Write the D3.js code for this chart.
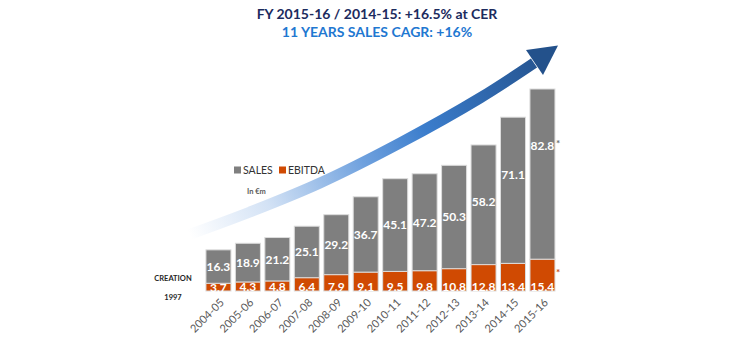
<!DOCTYPE html>
<html>
<head>
<meta charset="utf-8">
<script src="https://cdn.jsdelivr.net/npm/d3@7"></script>
<style>
  body { margin: 0; background: #fff; }
  svg text { font-family: Lato, "Open Sans", sans-serif; }
</style>
</head>
<body>
<div id="chart"></div>
<script>
// Sales and EBITDA in €m by fiscal year
const years = ["2004-05", "2005-06", "2006-07", "2007-08", "2008-09", "2009-10",
               "2010-11", "2011-12", "2012-13", "2013-14", "2014-15", "2015-16"];
const sales = [16.3, 18.9, 21.2, 25.1, 29.2, 36.7, 45.1, 47.2, 50.3, 58.2, 71.1, 82.8];
const ebitda = [3.7, 4.3, 4.8, 6.4, 7.9, 9.1, 9.5, 9.8, 10.8, 12.8, 13.4, 15.4];
const starred = ["2015-16"];
const titleLines = ["FY 2015-16 / 2014-15: +16.5% at CER", "11 YEARS SALES CAGR: +16%"];
const legendItems = ["SALES", "EBITDA"];

const width = 730, height = 350;
const colors = { SALES: "#7f7f7f", EBITDA: "#d04a02" };

const svg = d3.select("#chart").append("svg")
    .attr("width", width)
    .attr("height", height);

const x = d3.scaleBand()
    .domain(years)
    .range([201.5, 559.4])
    .padding(0.151);

const y = d3.scaleLinear()
    .domain([0, d3.max(years, (d, i) => sales[i] + ebitda[i])])
    .range([291, 89]);

// growth arrow (decoration)
const defs = svg.append("defs");
const grad = defs.append("linearGradient")
    .attr("id", "arrowGrad")
    .attr("gradientUnits", "userSpaceOnUse")
    .attr("x1", 190).attr("y1", 235)
    .attr("x2", 560).attr("y2", 45);
[[0, "#ffffff"], [0.2, "#d3e2f5"], [0.45, "#6fa1de"], [0.62, "#3b7dcc"], [1, "#214d86"]]
    .forEach(s => grad.append("stop").attr("offset", s[0]).attr("stop-color", s[1]));

const arrowPts = [[188, 235], [250, 212], [320, 183], [400, 143], [480, 98], [534, 63]];
svg.append("path")
    .attr("d", d3.line().curve(d3.curveCatmullRom)(arrowPts))
    .attr("fill", "none")
    .attr("stroke", "url(#arrowGrad)")
    .attr("stroke-width", 11);
svg.append("path")
    .attr("d", "M526,50 L558,45.5 L543,75 Z")
    .attr("fill", "#23518b");

// titles
svg.selectAll(".title")
    .data(titleLines)
    .enter().append("text")
    .attr("x", 377)
    .attr("y", (d, i) => 14 + i * 18)
    .attr("dy", "0.35em")
    .attr("text-anchor", "middle")
    .attr("font-size", 14)
    .attr("font-weight", "bold")
    .attr("fill", (d, i) => i === 0 ? "#1c2b5e" : "#1f78d1")
    .text(d => d);

// bars
const g = svg.append("g");
const bars = g.selectAll(".bar")
    .data(years.map((yr, i) => ({ yr, s: sales[i], e: ebitda[i] })))
    .enter().append("g");

bars.append("rect")
    .attr("x", d => x(d.yr))
    .attr("y", d => y(d.s + d.e))
    .attr("width", x.bandwidth())
    .attr("height", d => y(d.e) - y(d.s + d.e))
    .attr("fill", colors.SALES)
    .attr("stroke", "#dcdcdc")
    .attr("stroke-width", 1);

bars.append("rect")
    .attr("x", d => x(d.yr))
    .attr("y", d => y(d.e))
    .attr("width", x.bandwidth())
    .attr("height", d => y(0) - y(d.e))
    .attr("fill", colors.EBITDA)
    .attr("stroke", "#dcdcdc")
    .attr("stroke-width", 1);

// value labels
const labelY = d => {
    const top = y(d.s + d.e), mid = (top + y(d.e)) / 2;
    return Math.min(mid, top + 57);
};
bars.append("text")
    .attr("x", d => x(d.yr) + x.bandwidth() / 2)
    .attr("y", labelY)
    .attr("dy", "0.36em")
    .attr("text-anchor", "middle")
    .attr("font-size", 12)
    .attr("font-weight", "bold")
    .attr("fill", "#fff")
    .text(d => d.s.toFixed(1));

bars.append("text")
    .attr("x", d => x(d.yr) + x.bandwidth() / 2)
    .attr("y", d => Math.max((y(d.e) + y(0)) / 2, y(0) - 4))
    .attr("dy", "0.36em")
    .attr("text-anchor", "middle")
    .attr("font-size", 12)
    .attr("font-weight", "bold")
    .attr("fill", "#fff")
    .text(d => d.e.toFixed(1));

// footnote stars
const starBars = bars.filter(d => starred.includes(d.yr));
starBars.append("text")
    .attr("x", d => x(d.yr) + x.bandwidth() + 1)
    .attr("y", d => labelY(d) + 1)
    .attr("font-size", 10)
    .attr("font-weight", "bold")
    .attr("fill", "#6f6f6f")
    .text("*");
starBars.append("text")
    .attr("x", d => x(d.yr) + x.bandwidth() + 1)
    .attr("y", d => (y(d.e) + y(0)) / 2 + 1)
    .attr("font-size", 10)
    .attr("font-weight", "bold")
    .attr("fill", "#c8501a")
    .text("*");

// x axis labels
const xAxis = svg.append("g")
    .attr("transform", `translate(0,${y(0)})`)
    .call(d3.axisBottom(x).tickSize(0).tickPadding(0));
xAxis.select(".domain").remove();
xAxis.selectAll("text")
    .attr("font-family", "Lato, sans-serif")
    .attr("font-size", 11)
    .attr("fill", "#595959")
    .attr("text-anchor", "end")
    .attr("dy", "0.3em")
    .attr("transform", "translate(4,10) rotate(-45)");

// creation note
svg.append("text")
    .attr("x", 173).attr("y", 278)
    .attr("dy", "0.35em")
    .attr("text-anchor", "middle")
    .attr("font-size", 7.5)
    .attr("font-weight", "bold")
    .attr("fill", "#262626")
    .text("CREATION");
svg.append("text")
    .attr("x", 173).attr("y", 297)
    .attr("dy", "0.35em")
    .attr("text-anchor", "middle")
    .attr("font-size", 7.5)
    .attr("font-weight", "bold")
    .attr("fill", "#262626")
    .text("1997");

// legend
const legend = svg.append("g").attr("transform", "translate(234,170)");
const legX = [0, 45];
legendItems.forEach((name, i) => {
    legend.append("rect")
        .attr("x", legX[i]).attr("y", -3.5)
        .attr("width", 7).attr("height", 7)
        .attr("fill", colors[name]);
    legend.append("text")
        .attr("x", legX[i] + 9).attr("y", 0)
        .attr("dy", "0.36em")
        .attr("font-size", 10.5)
        .attr("fill", "#333")
        .text(name);
});
svg.append("text")
    .attr("x", 247).attr("y", 191)
    .attr("dy", "0.35em")
    .attr("font-size", 7.5)
    .attr("font-weight", "bold")
    .attr("fill", "#595959")
    .text("In €m");
</script>
</body>
</html>
